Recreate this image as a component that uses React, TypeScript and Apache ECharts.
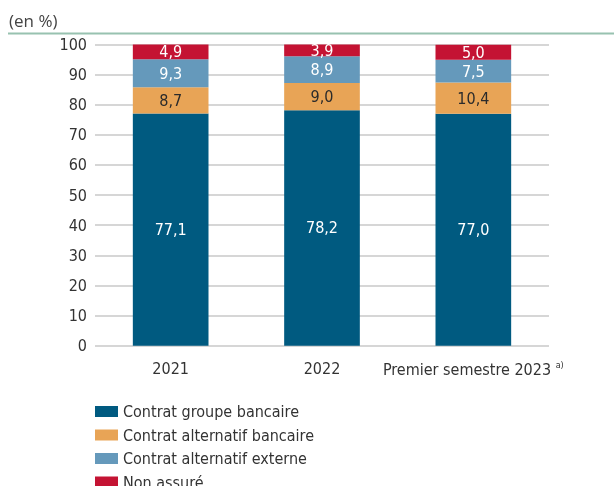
import React, { useEffect, useRef } from "react";
import * as echarts from "echarts";

const categories = ["2021", "2022", "Premier semestre 2023"];
const seriesNames = [
  "Contrat groupe bancaire",
  "Contrat alternatif bancaire",
  "Contrat alternatif externe",
  "Non assuré",
];
const groupeBancaire = [77.1, 78.2, 77.0];
const alternatifBancaire = [8.7, 9.0, 10.4];
const alternatifExterne = [9.3, 8.9, 7.5];
const nonAssure = [4.9, 3.9, 5.0];
const yTicks = [0, 10, 20, 30, 40, 50, 60, 70, 80, 90, 100];

const colors = ["#005a80", "#e8a456", "#6599bb", "#c41333"];
const labelColors = ["#ffffff", "#2b2b2b", "#ffffff", "#ffffff"];
const FONT = "'Liberation Sans Narrow', 'DejaVu Sans Condensed', 'Roboto Condensed', sans-serif";

export default function App() {
  const ref = useRef<HTMLDivElement>(null);
  useEffect(() => {
    if (!ref.current) return;
    const chart = echarts.init(ref.current, undefined, { renderer: "svg" });
    const values = [groupeBancaire, alternatifBancaire, alternatifExterne, nonAssure];
    chart.setOption({
      animation: false,
      graphic: [
        {
          type: "text",
          left: 9,
          top: 12,
          style: { text: "(en %)", fontSize: 17, fill: "#444", fontFamily: "'Open Sans', sans-serif" },
        },
        {
          type: "line",
          shape: { x1: 8, y1: 33.5, x2: 614, y2: 33.5 },
          style: { stroke: "#98c2b0", lineWidth: 2 },
        },
      ],
      legend: {
        orient: "vertical",
        left: 95,
        top: 403.5,
        height: 100,
        padding: 0,
        itemWidth: 23,
        itemHeight: 11,
        itemGap: 7.5,
        icon: "rect",
        data: seriesNames,
        textStyle: { fontSize: 16, lineHeight: 15, color: "#333", fontFamily: FONT },
      },
      grid: { left: 95, right: 65, top: 44.5, bottom: 140.3, containLabel: false },
      xAxis: {
        type: "category",
        data: categories,
        axisLine: { show: false },
        axisTick: { show: false },
        axisLabel: {
          interval: 0,
          margin: 15,
          fontSize: 16,
          color: "#333",
          fontFamily: FONT,
          formatter: (v: string) => (v.startsWith("Premier") ? v + " {sup|a)}" : v),
          rich: { sup: { fontSize: 9, verticalAlign: "top", padding: [0, 0, 8, 0], color: "#333", fontFamily: FONT } },
        },
      },
      yAxis: {
        type: "value",
        min: yTicks[0],
        max: yTicks[yTicks.length - 1],
        interval: 10,
        axisLine: { show: false },
        axisTick: { show: false },
        splitLine: { lineStyle: { color: "#d6d6d6", width: 2 } },
        axisLabel: { fontSize: 16, color: "#333", margin: 8, fontFamily: FONT },
      },
      series: seriesNames.map((name, i) => ({
        name,
        type: "bar",
        stack: "total",
        barWidth: "50%",
        data: values[i],
        itemStyle: { color: colors[i] },
        label: {
          show: true,
          position: "inside",
          color: labelColors[i],
          fontSize: 16,
          fontFamily: FONT,
          formatter: (p: any) => Number(p.value).toFixed(1).replace(".", ","),
        },
      })),
    });
    return () => chart.dispose();
  }, []);
  return <div ref={ref} style={{ position: "fixed", left: 0, top: 0, width: 614, height: 486 }} />;
}
